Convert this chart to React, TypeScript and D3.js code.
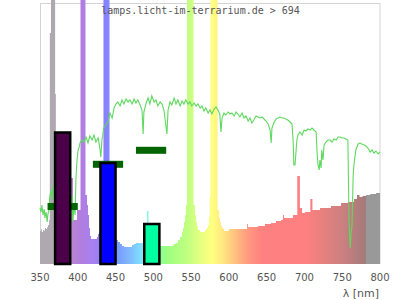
import React from "react";
import * as d3 from "d3";

// ---- data ----
const tickLabels = [350, 400, 450, 500, 550, 600, 650, 700, 750, 800];

// lamp emission spectrum (step bins): wavelength start, intensity
const lampWl = [350, 351.5, 352.5, 354, 355.5, 356.5, 358, 359.5, 360.5, 362, 363, 364.5, 370, 371, 390.3, 393.7, 399, 403.6, 410.2, 412.2, 413.5, 414.9, 416.2, 417.5, 425.4, 426.8, 428, 429.4, 434, 442, 450.6, 453.2, 455.9, 458.5, 461.2, 471.8, 474.4, 477, 486.3, 491.6, 493.6, 508.8, 526.8, 529.5, 532.6, 535.3, 538, 539.3, 540.6, 541.9, 543.2, 544.6, 553.2, 555.1, 556.5, 557.8, 559, 561.8, 568.4, 569.7, 571, 572.3, 573.7, 574.7, 575.6, 585, 587, 588.2, 589.5, 590.9, 592.2, 593.5, 600, 624, 625.3, 638.5, 647.8, 655.8, 662.4, 669, 671.6, 673, 684.8, 690.5, 694, 696.8, 700.7, 707.8, 710.6, 714, 720.6, 735, 748.4, 757.6, 765.6, 769.5, 772.9, 777, 781.5, 787, 794.7, 800];
const lampVal = [33, 35, 32, 34, 33, 36, 35, 37, 39, 44, 231, 270, 170, 44, 86, 44, 54, 270, 69, 59, 49, 36, 28, 25, 27, 30, 32, 30, 270, 30, 24, 22, 20, 18, 17, 19, 20, 21, 21, 53, 21, 18, 20, 21, 24, 27, 32, 36, 42, 49, 59, 270, 59, 49, 42, 37, 34, 32, 34, 35, 36, 39, 47, 67, 270, 54, 46, 42, 38, 36, 35, 33, 35, 40, 37, 38, 40, 41, 43, 44, 49, 46, 49, 88, 56, 51, 52, 65, 54, 54, 56, 58, 61, 62, 65, 69, 67, 68, 69, 70, 71, 73];

// daylight reference spectrum
const sunWl = [350, 351.5, 352.5, 354, 355.5, 356.5, 358, 359.5, 360.5, 362, 363, 364.5, 366, 367, 368.5, 371, 376.5, 383, 389.5, 391, 392.5, 393.5, 395, 396.5, 397.5, 399, 400.5, 401.5, 403, 405.5, 408, 411, 413.5, 416, 419, 421.5, 424, 427, 429.5, 430.5, 432, 434.5, 437.5, 440, 442.5, 445.5, 448, 450.5, 453, 456, 458.5, 461, 464, 466.5, 469, 472, 474.5, 477, 479.5, 482.5, 485, 486.5, 487.5, 490.5, 493, 495.5, 498, 501, 503.5, 506, 509, 511.5, 514, 517, 518, 519.5, 522, 524.5, 527.5, 530, 532.5, 535.5, 538, 540.5, 543, 546, 548.5, 551, 554, 556.5, 559, 562, 564.5, 567, 569.5, 572.5, 575, 577.5, 580.5, 583, 585.5, 588, 589.5, 591, 593.5, 596, 599, 601.5, 604, 607, 609.5, 612, 614.5, 617.5, 620, 622.5, 625.5, 628, 630.5, 633, 636, 638.5, 641, 644, 646.5, 649, 652, 654.5, 656, 657, 660, 662.5, 665, 667.5, 670.5, 673, 675.5, 678, 681, 683.5, 685, 686, 687.5, 689, 690, 691.5, 694, 697, 699.5, 702, 704.5, 707.5, 710, 712.5, 715.5, 716.5, 718, 719.5, 720.5, 722, 723, 724.5, 726, 728.5, 731, 734, 736.5, 739, 742, 744.5, 747, 750, 752.5, 755, 757.5, 759, 760.5, 761.5, 763, 764.5, 765.5, 768, 771, 773.5, 776, 779, 781.5, 784, 787, 789.5, 792, 794.5, 797.5, 800];
const sunVal = [56, 52, 59, 49, 55, 46, 52, 42, 50, 54, 68, 74, 64, 76, 79, 84, 89, 79, 64, 54, 69, 42, 59, 49, 84, 104, 114, 116, 121, 124, 122, 127, 121, 128, 124, 129, 122, 126, 114, 107, 124, 136, 140, 142, 151, 146, 156, 160, 162, 158, 164, 160, 165, 162, 164, 160, 165, 161, 164, 159, 154, 130, 152, 161, 166, 160, 168, 162, 164, 158, 162, 160, 154, 136, 130, 154, 162, 159, 166, 160, 164, 158, 163, 160, 164, 160, 162, 158, 161, 158, 160, 156, 158, 153, 156, 151, 154, 150, 155, 157, 154, 150, 132, 146, 151, 149, 152, 150, 151, 148, 152, 150, 147, 151, 146, 148, 143, 146, 141, 144, 148, 147, 146, 147, 145, 143, 140, 134, 121, 136, 142, 145, 146, 147, 146, 146, 145, 144, 142, 140, 124, 99, 99, 114, 124, 129, 132, 129, 134, 133, 135, 134, 136, 134, 132, 114, 99, 94, 104, 96, 114, 104, 119, 122, 124, 124, 122, 125, 124, 127, 127, 126, 126, 125, 124, 44, 16, 29, 39, 89, 99, 114, 120, 121, 120, 119, 118, 116, 112, 114, 111, 113, 110, 112];

// band bars
const barCenter = [380, 440, 498];
const barValue = [131.5, 101, 40];
const barColor = ["#4b0049", "#0000ff", "#00ffa0"];
// reference markers
const markCenter = [380, 440, 497];
const markValue = [57.5, 99.7, 113.7];

// spectrum colour stops (wavelength, colour)
const stopWl = [350, 379.9, 380, 395, 405, 420, 436, 455, 470, 485, 495, 505, 520, 546, 562, 578, 592, 602, 612, 622, 632, 645, 700, 720, 750, 780.9, 781, 800];
const stopColor = ["#b0a8b0", "#b0a8b0", "#b888c8", "#b882d4", "#b07ee0", "#a880f0", "#8880ff", "#78a0ff", "#80bcff", "#80e4ff", "#80ffd8", "#88ff98", "#a0ff80", "#c2ff80", "#e4ff80", "#ffff80", "#ffe680", "#ffd080", "#ffb880", "#ffa080", "#ff9080", "#ff8080", "#ff8080", "#ec8080", "#cc8080", "#a47a7a", "#999999", "#999999"];

export default function App() {
  const W = 400, H = 300;
  const x = d3.scaleLinear().domain([350, 800]).range([40, 380]);
  const y = d3.scaleLinear().domain([0, 261]).range([264, 3]);

  const lampPts = lampWl.map((w, i) => [w, lampVal[i]] as [number, number]);
  const area = d3
    .area<[number, number]>()
    .x((d) => x(d[0]))
    .y0(y(0))
    .y1((d) => y(d[1]))
    .curve(d3.curveStepAfter);

  const sunPts = sunWl.map((w, i) => [w, sunVal[i]] as [number, number]);
  const line = d3
    .line<[number, number]>()
    .x((d) => x(d[0]))
    .y((d) => y(d[1]));

  return (
    <div style={{ position: "absolute", left: 0, top: 0 }}>
      <svg width={W} height={H} style={{ display: "block" }}>
        <defs>
          <linearGradient id="spec" gradientUnits="userSpaceOnUse" x1={x(350)} x2={x(800)} y1={0} y2={0}>
            {stopWl.map((w, i) => (
              <stop key={i} offset={(w - 350) / 450} stopColor={stopColor[i]} />
            ))}
          </linearGradient>
        </defs>
        <rect x={40.5} y={3.5} width={339.5} height={260} fill="#fff" stroke="#d3d3d3" strokeWidth={1} />
        <path d={area(lampPts) || ""} fill="url(#spec)" />
        <path d={line(sunPts) || ""} fill="none" stroke="#5fd85f" strokeWidth={1.1} />
        {markCenter.map((c, i) => (
          <rect key={i} x={x(c - 20)} y={y(markValue[i]) - 3.5} width={x(c + 20) - x(c - 20)} height={7} fill="#006400" />
        ))}
        {barCenter.map((c, i) => (
          <rect
            key={i}
            x={x(c - 10)}
            y={y(barValue[i])}
            width={x(c + 10) - x(c - 10)}
            height={y(0) - y(barValue[i])}
            fill={barColor[i]}
            stroke="#000"
            strokeWidth={2.5}
          />
        ))}
        <text x={200.5} y={14} textAnchor="middle" fontFamily="DejaVu Sans Mono" fontSize={10} fill="#555">
          lamps.licht-im-terrarium.de &gt; 694
        </text>
        {tickLabels.map((t) => (
          <text key={t} x={x(t)} y={281} textAnchor="middle" fontFamily="DejaVu Sans" fontSize={10} fill="#555">
            {t}
          </text>
        ))}
        <text x={379} y={297} textAnchor="end" fontFamily="DejaVu Sans" fontSize={11} fill="#555">
          λ [nm]
        </text>
      </svg>
    </div>
  );
}
